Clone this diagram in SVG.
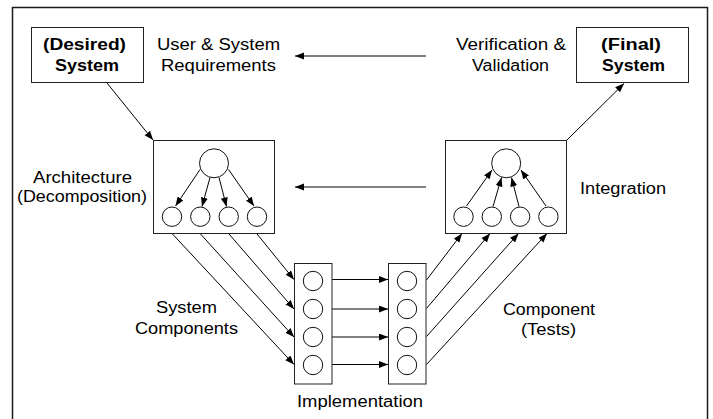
<svg xmlns="http://www.w3.org/2000/svg" width="713" height="419" viewBox="0 0 713 419">
  <style>
    .frame { fill: none; stroke: #1a1a1a; stroke-width: 1.5; }
    .box { fill: #ffffff; stroke: #222222; stroke-width: 1; }
    .node { fill: #ffffff; stroke: #111111; stroke-width: 1; }
    .link { fill: none; stroke: #000000; stroke-width: 1; marker-end: url(#head); }
    .lbl { font-family: "Liberation Sans", Arial, sans-serif; font-size: 16px; fill: #000000; }
    .bold { font-weight: bold; }
  </style>
  <defs>
    <marker id="head" markerUnits="userSpaceOnUse" markerWidth="10" markerHeight="8" refX="9" refY="3.5" orient="auto">
      <path d="M0,0 L9,3.5 L0,7 z" fill="#000000"/>
    </marker>
  </defs>

  <!-- page frame -->
  <rect class="frame" x="12.5" y="7.5" width="695" height="420"/>

  <!-- connectors -->
  <g id="connectors">
    <!-- requirements flow and feedback -->
    <line class="link" x1="107" y1="83" x2="153" y2="140"/>
    <line class="link" x1="567" y1="140" x2="624" y2="83.5"/>
    <line class="link" x1="426" y1="56" x2="295" y2="56"/>
    <line class="link" x1="426" y1="187" x2="295" y2="187"/>
    <!-- decomposition into components -->
    <line class="link" x1="172.5" y1="234" x2="294" y2="364.5"/>
    <line class="link" x1="200.5" y1="234" x2="294" y2="337"/>
    <line class="link" x1="229" y1="234" x2="294" y2="309"/>
    <line class="link" x1="257" y1="234" x2="294" y2="279.5"/>
    <!-- implementation to tested components -->
    <line class="link" x1="332" y1="279.5" x2="388" y2="279.5"/>
    <line class="link" x1="332" y1="309" x2="388" y2="309"/>
    <line class="link" x1="332" y1="337" x2="388" y2="337"/>
    <line class="link" x1="332" y1="364.5" x2="388" y2="364.5"/>
    <!-- component tests into integration -->
    <line class="link" x1="426.5" y1="280" x2="462" y2="233.5"/>
    <line class="link" x1="426.5" y1="308.5" x2="490" y2="233.5"/>
    <line class="link" x1="426.5" y1="336.5" x2="518.5" y2="233.5"/>
    <line class="link" x1="426.5" y1="364.5" x2="547" y2="233.5"/>
  </g>

  <!-- desired system -->
  <g id="desired-system">
    <rect class="box" x="31.5" y="27.5" width="112" height="55"/>
    <text class="lbl bold" x="43" y="49.5" textLength="83" lengthAdjust="spacingAndGlyphs">(Desired)</text>
    <text class="lbl bold" x="55" y="70.5" textLength="64" lengthAdjust="spacingAndGlyphs">System</text>
  </g>

  <!-- final system -->
  <g id="final-system">
    <rect class="box" x="576.5" y="27.5" width="112" height="55"/>
    <text class="lbl bold" x="601" y="49.5" textLength="60" lengthAdjust="spacingAndGlyphs">(Final)</text>
    <text class="lbl bold" x="602" y="70.5" textLength="63" lengthAdjust="spacingAndGlyphs">System</text>
  </g>

  <!-- requirements label -->
  <g id="requirements">
    <text class="lbl" x="157" y="49.5" textLength="123" lengthAdjust="spacingAndGlyphs">User &amp; System</text>
    <text class="lbl" x="161" y="70.5" textLength="115" lengthAdjust="spacingAndGlyphs">Requirements</text>
  </g>

  <!-- verification label -->
  <g id="verification">
    <text class="lbl" x="456" y="49.5" textLength="110" lengthAdjust="spacingAndGlyphs">Verification &amp;</text>
    <text class="lbl" x="472" y="70.5" textLength="77" lengthAdjust="spacingAndGlyphs">Validation</text>
  </g>

  <!-- architecture: one parent decomposed into four parts -->
  <g id="architecture">
    <rect class="box" x="153.5" y="140.5" width="121" height="93"/>
    <circle class="node" cx="214" cy="163.3" r="14.5"/>
    <circle class="node" cx="172" cy="216.7" r="9.7"/>
    <circle class="node" cx="200.3" cy="216.7" r="9.7"/>
    <circle class="node" cx="228.7" cy="216.7" r="9.7"/>
    <circle class="node" cx="257" cy="216.7" r="9.7"/>
    <line class="link" x1="200" y1="169.5" x2="175.5" y2="206"/>
    <line class="link" x1="210" y1="177.5" x2="202" y2="206.5"/>
    <line class="link" x1="219" y1="177.5" x2="226.5" y2="206.5"/>
    <line class="link" x1="228.5" y1="169.5" x2="254" y2="206"/>
    <text class="lbl" x="33" y="182.5" textLength="99" lengthAdjust="spacingAndGlyphs">Architecture</text>
    <text class="lbl" x="17" y="202" textLength="130" lengthAdjust="spacingAndGlyphs">(Decomposition)</text>
  </g>

  <!-- integration: four parts assembled into one -->
  <g id="integration">
    <rect class="box" x="445.5" y="140.5" width="121" height="93"/>
    <circle class="node" cx="506.2" cy="163.3" r="14.5"/>
    <circle class="node" cx="463.5" cy="216.7" r="9.7"/>
    <circle class="node" cx="491.8" cy="216.7" r="9.7"/>
    <circle class="node" cx="520.1" cy="216.7" r="9.7"/>
    <circle class="node" cx="548.4" cy="216.7" r="9.7"/>
    <line class="link" x1="466.5" y1="206" x2="492" y2="170"/>
    <line class="link" x1="493" y1="206.5" x2="501.5" y2="177.5"/>
    <line class="link" x1="519" y1="206.5" x2="511.5" y2="177.5"/>
    <line class="link" x1="546" y1="206" x2="521" y2="170"/>
    <text class="lbl" x="580" y="194" textLength="86" lengthAdjust="spacingAndGlyphs">Integration</text>
  </g>

  <!-- system components column -->
  <g id="system-components">
    <rect class="box" x="294.5" y="263.5" width="37.5" height="120.5"/>
    <circle class="node" cx="313" cy="281" r="9.7"/>
    <circle class="node" cx="313" cy="309" r="9.7"/>
    <circle class="node" cx="313" cy="337" r="9.7"/>
    <circle class="node" cx="313" cy="365" r="9.7"/>
    <text class="lbl" x="156" y="313" textLength="61" lengthAdjust="spacingAndGlyphs">System</text>
    <text class="lbl" x="135" y="334" textLength="103" lengthAdjust="spacingAndGlyphs">Components</text>
  </g>

  <!-- tested components column -->
  <g id="component-tests">
    <rect class="box" x="388.5" y="263.5" width="37.5" height="120.5"/>
    <circle class="node" cx="407" cy="281" r="9.7"/>
    <circle class="node" cx="407" cy="309" r="9.7"/>
    <circle class="node" cx="407" cy="337" r="9.7"/>
    <circle class="node" cx="407" cy="365" r="9.7"/>
    <text class="lbl" x="503" y="314.5" textLength="92" lengthAdjust="spacingAndGlyphs">Component</text>
    <text class="lbl" x="521" y="334.5" textLength="55" lengthAdjust="spacingAndGlyphs">(Tests)</text>
  </g>

  <!-- implementation label -->
  <g id="implementation">
    <text class="lbl" x="297" y="407" textLength="126" lengthAdjust="spacingAndGlyphs">Implementation</text>
  </g>
</svg>
